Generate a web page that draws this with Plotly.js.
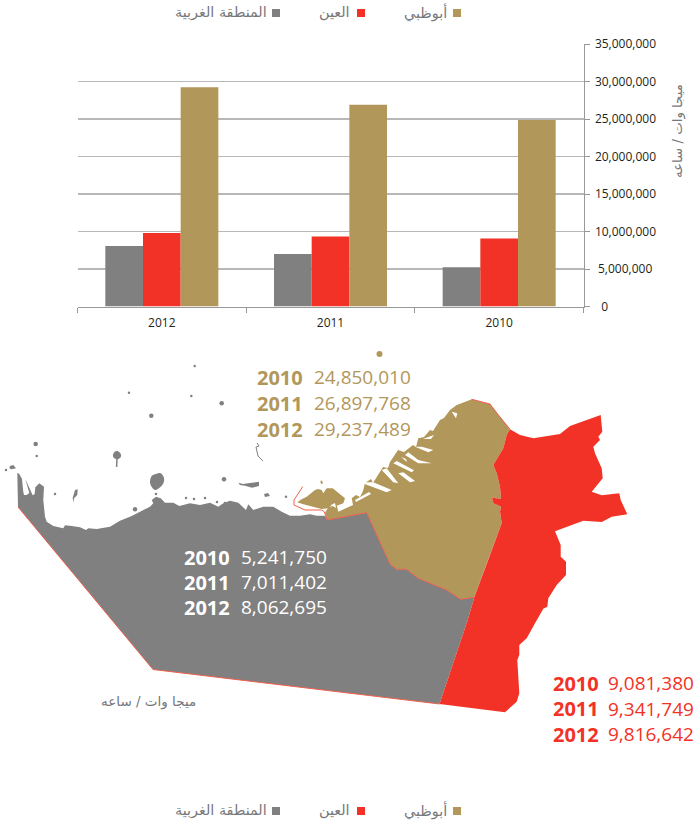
<!DOCTYPE html>
<html><head><meta charset="utf-8">
<script src="https://cdn.plot.ly/plotly-3.0.1.min.js"></script>
<style>html,body{margin:0;padding:0;background:#fff}#c{width:698px;height:823px}</style>
</head><body><div id="c"></div>
<script>
// ---- chart data ----
const years = ['2012', '2011', '2010'];
const western = [8062695, 7011402, 5241750];
const alAin = [9816642, 9341749, 9081380];
const abuDhabi = [29237489, 26897768, 24850010];
const regionNames = ['أبوظبي', 'العين', 'المنطقة الغربية'];
const unitLabel = 'ميجا وات / ساعه';
const yTickVals = [0, 5000000, 10000000, 15000000, 20000000, 25000000, 30000000, 35000000];
const yTickText = ['\u00a0\u00a00', '\u00a05,000,000', '10,000,000', '15,000,000', '20,000,000', '25,000,000', '30,000,000', '35,000,000'];

// ---- map outlines (map units) ----
const westernX = [18,17.3,17.3,19.3,22,23.3,24,26.7,29.3,25.3,30.7,32.7,34.7,35.3,39.3,44,43.3,45,46.7,53.3,63.3,65,71.7,80,86,88.3,96.7,110,120,131.7,140,150,153.3,151.7,156,160.7,165,173.3,179.3,190,200,210,218.3,223.3,230,238.3,246,248.3,253.3,263.3,273.3,281.7,290,300,310,316.7,325,327.3,366.7,390,396.7,406.7,418.3,446.7,460.7,474.3,467.7,439.5,153,18];
const westernY = [507,486.7,472.7,474,479,491.7,495,495,493,479,490,495.3,494,487.3,483.3,486.7,500,516.7,521.7,526,528.3,525.3,526,527.3,530,528.3,529,526.7,520.7,516,511.7,506.7,503.3,500,496.7,498.3,502.7,502.7,506,503.3,505,502.7,506.7,503.3,500.7,502.7,510,504.3,510,506.7,506.7,511.7,515.7,515.7,514.3,515.7,515.7,520,512.7,564,569.3,569.3,578.3,590,599.3,597.3,620,704,669.5,507];
const abuDhabiX = [327.3,325,328.3,336.7,338.3,345,350,353,351.7,356,360,363,365,371,373,383,388,390,398,404,413,416,418.3,424,430,433,440,444,450,456.7,470,471.7,490,498.3,510,506.7,503.3,493.3,496.7,500,501,492,493.3,501,500,501.7,493.3,486.7,474.3,460.7,446.7,418.3,406.7,396.7,390,366.7,327.3];
const abuDhabiY = [520,512.7,507.3,505,511.7,508.3,505.7,505,498.3,495,497,491,483,479,483,467,468,462,450,452,445,447,438.3,437,430,431,420,418,410,405,400,399.3,404,415,429.3,435,448.3,465,473.3,486.7,498.7,497.7,503.3,506.7,511.7,523.3,546.7,563.3,597.3,599.3,590,578.3,569.3,569.3,564,512.7,520];
const abuDhabiIslandX = [297.3,302,306.7,311,315,318,321.7,323.3,326.7,332.7,338.3,345,343.3,336.7,331.7,328.3,321.7,311.7,303.3,297.3];
const abuDhabiIslandY = [502.3,499,496.7,493,490,489,490,493.3,488.3,488.3,493.3,498.3,503.3,505.7,505,508.3,509,506.7,504.3,502.3];
const alAinX = [474.3,486.7,493.3,501.7,500,501,493.3,492,501,500,496.7,493.3,503.3,506.7,510,520,533.3,560,570,600.7,602.3,598.3,600,593.3,595,601.7,602.7,591.7,601.7,619.3,620.7,627.3,611.7,601.7,583.3,555,560.7,560.7,566,566,556.7,548.3,547.3,543.3,535,526.7,519.3,519.3,517.3,518.3,519.3,516.7,505,439.5,467.7,474.3];
const alAinY = [597.3,563.3,546.7,523.3,511.7,506.7,503.3,497.7,498.7,486.7,473.3,465,448.3,435,429.3,435,438.3,434,426,415,431.7,436.7,440,446.7,453.3,468.3,478.3,491.7,495.3,493.3,500,514.3,516.7,522,520.7,531.3,545,556.7,561.7,575,585,598.3,606.7,608.7,623.3,638.3,645,655,660,676.7,693.3,701.7,712.3,704,620,597.3];
const coastGapsX = [360,386.7,391.7,373.3,null,381.7,393.3,398.3,386.7,null,398.3,410,415,403.3,null,393.3,411.7,414,396.7,null,405,418.3,431.7,418.3,408.3,null,415,428.3,433.3,421.7,null,423,431,434,null,451.7,456,457.3,null,356,371,369,355,null,331,336,335,null,344,352,351,null,401,407,406,null,411,417,416];
const coastGapsY = [482.3,492.3,490,482.3,null,470,482.3,483.3,468.3,null,473.3,482.3,481,472.3,null,463.3,472.3,470.3,461,null,455,463.3,463.3,460,452.3,null,446.7,452.3,450,446.7,null,439,439,435,null,411.7,418.3,413.3,null,502,494,492,500,null,505,508,503,null,507,503,501,null,457,462,459,null,441,444,441];
const balloonsX = [150,151.7,156,160.7,164,163.5,160.7,155,150.7,150,null,113,115,117.3,120.5,121,118.5,116,113.5,113];
const balloonsY = [481.7,476,474,473.3,478,483,486.7,490,485,481.7,null,455,451.5,451,453.5,456.5,459,459,457.5,455];
const westernIslandsX = [75,77.7,77.3,74,73.3,72.7,75,null,10,13.3,16,11.7,9.3,10,null,238.3,243,250,259,259,252,245,240,238.3,null,264,268,270,265,264];
const westernIslandsY = [490,489.3,495,498.3,502.7,498,490,null,466,465,468.3,469.3,468.3,466,null,482.7,484,483,481.7,486,487.7,485.7,485,482.7,null,494,493,496,497,494];
const mediumIsletsX = [221.7,151.3,35.7,224,135];
const mediumIsletsY = [403.3,415.7,444,479.3,509.3];
const smallIsletsX = [194.7,129,191.3,36.7,286,55,6,156,186,194,205,217,225];
const smallIsletsY = [366,392.7,396,456,496.7,494,470,494,498,499,498,502,503];
const balloonStalkX = [117,116.6];
const balloonStalkY = [458,467];
const channelX = [257,259,256,257,258,263];
const channelY = [443,446,447,452,456,461];
const borderX = [18,153,439.5,null,327.3,366.7,390,396.7,406.7,418.3,446.7,460.7,474.3,null,471.7,490,498.3,510,null,302.7,294,294,305,321.7,324.3,327.3];
const borderY = [507,669.5,704,null,520,512.7,564,569.3,569.3,578.3,590,599.3,597.3,null,399.3,404,415,429.3,null,486.7,500,505,510,510,511.7,520];
const goldIsletsX = [379.5];
const goldIsletsY = [354];
const goldSpeckX = [320.7,322.5];
const goldSpeckY = [482.5,482];

// ---- styles ----
const GRAY = '#808080', RED = '#F23226', GOLD = '#B2975B', LABEL = '#77787b';
const NUM = '"Open Sans", "Noto Sans", sans-serif', AR = '"DejaVu Sans", sans-serif';
const W = 698, H = 823;

function poly(x, y, color, shape) {
  return {type:'scatter', mode:'lines', x, y, xaxis:'x2', yaxis:'y2', fill:'toself', fillcolor:color,
          line:{width:0, color:color, shape:shape || 'linear'}, hoverinfo:'skip', showlegend:false, connectgaps:false};
}
function dots(x, y, color, size) {
  return {type:'scatter', mode:'markers', x, y, xaxis:'x2', yaxis:'y2', marker:{color, size, line:{width:0}},
          hoverinfo:'skip', showlegend:false};
}
function stroke(x, y, color, width) {
  return {type:'scatter', mode:'lines', x, y, xaxis:'x2', yaxis:'y2', line:{color, width}, hoverinfo:'skip', showlegend:false};
}
const bar = (name, y, color) => ({type:'bar', name, x:years, y, marker:{color, line:{width:0}}, showlegend:false});

const traces = [
  bar(regionNames[2], western, GRAY),
  bar(regionNames[1], alAin, RED),
  bar(regionNames[0], abuDhabi, GOLD),
  poly(westernX, westernY, GRAY),
  poly(westernIslandsX, westernIslandsY, GRAY),
  poly(balloonsX, balloonsY, GRAY, 'spline'),
  dots(mediumIsletsX, mediumIsletsY, GRAY, 4.5),
  dots(smallIsletsX, smallIsletsY, GRAY, 2.5),
  stroke(channelX, channelY, GRAY, 1),
  stroke(balloonStalkX, balloonStalkY, GRAY, 1.5),
  poly(abuDhabiX, abuDhabiY, GOLD),
  poly(abuDhabiIslandX, abuDhabiIslandY, GOLD),
  dots(goldIsletsX, goldIsletsY, GOLD, 6),
  stroke(goldSpeckX, goldSpeckY, GOLD, 3),
  poly(coastGapsX, coastGapsY, '#ffffff'),
  poly(alAinX, alAinY, RED),
  stroke(borderX, borderY, '#F0604F', 1)
];

const annotations = [], shapes = [];
function note(text, x, y, opt) {
  annotations.push(Object.assign({text, x, y, xref:'x2', yref:'y2', showarrow:false, xanchor:'left', yanchor:'middle',
    borderpad:0, borderwidth:0}, opt));
}
function fmt(v){ return v.toLocaleString('en-US'); }
function block(vals, color, yearX, valueX, rowYs) {
  [2,1,0].forEach((idx, row) => {
    note('<b>' + years[idx] + '</b>', yearX, rowYs[row], {font:{family:NUM, size:20, color}});
    note(fmt(vals[idx]), valueX, rowYs[row], {font:{family:NUM, size:19, color}, xanchor:'right'});
  });
}
block(abuDhabi, GOLD, 256.5, 410.5, [377, 403, 429]);
block(western, '#ffffff', 184, 327, [557, 582, 607]);
block(alAin, RED, 552.5, 694, [683, 708.5, 734]);

[13, 811].forEach(yc => {
  [[453, GOLD, 447, 0], [357, RED, 350, 1], [272, GRAY, 267, 2]].forEach(([sx, color, tx, i]) => {
    shapes.push({type:'rect', xref:'x2', yref:'y2', x0:sx, x1:sx+8, y0:yc-4, y1:yc+4, fillcolor:color, line:{width:0}});
    note(regionNames[i], tx, yc-1, {xanchor:'right', font:{family:AR, size:14.4, color:LABEL}});
  });
});
note(unitLabel, 196, 701, {xanchor:'right', font:{family:AR, size:13.5, color:LABEL}});
note(unitLabel, 678, 131, {xanchor:'center', textangle:-90, font:{family:AR, size:13.3, color:LABEL}});

const layout = {
  width:W, height:H, margin:{l:0,r:0,t:0,b:0,pad:0}, paper_bgcolor:'#fff', plot_bgcolor:'rgba(0,0,0,0)',
  showlegend:false, barmode:'group', bargap:0.33, bargroupgap:0,
  xaxis:{type:'category', domain:[77.5/W, 583.5/W], anchor:'y', range:[-0.5,2.5], tickson:'boundaries', ticks:'outside', ticklen:5,
         tickcolor:'#999', tickwidth:1, showline:true, linecolor:'#999', linewidth:1, showgrid:false, zeroline:false, ticklabelstandoff:5,
         tickfont:{family:NUM, size:12, color:'#231f20'}, title:{text:''}},
  yaxis:{domain:[(H-306.5)/H, (H-44)/H], anchor:'x', side:'right', range:[0,35000000], tickmode:'array', tickvals:yTickVals, ticktext:yTickText,
         ticks:'outside', ticklen:5, tickcolor:'#999', tickwidth:1, showline:true, linecolor:'#999', linewidth:1,
         showgrid:true, gridcolor:'#b8b8b8', gridwidth:1.3, zeroline:false, ticklabelstandoff:3,
         tickfont:{family:NUM, size:12, color:'#231f20'}, title:{text:''}},
  xaxis2:{domain:[0,1], range:[0,W], anchor:'y2', visible:false, fixedrange:true},
  yaxis2:{domain:[0,1], range:[H,0], anchor:'x2', visible:false, fixedrange:true},
  annotations, shapes
};
Plotly.newPlot('c', traces, layout, {displayModeBar:false, staticPlot:true});
</script></body></html>
